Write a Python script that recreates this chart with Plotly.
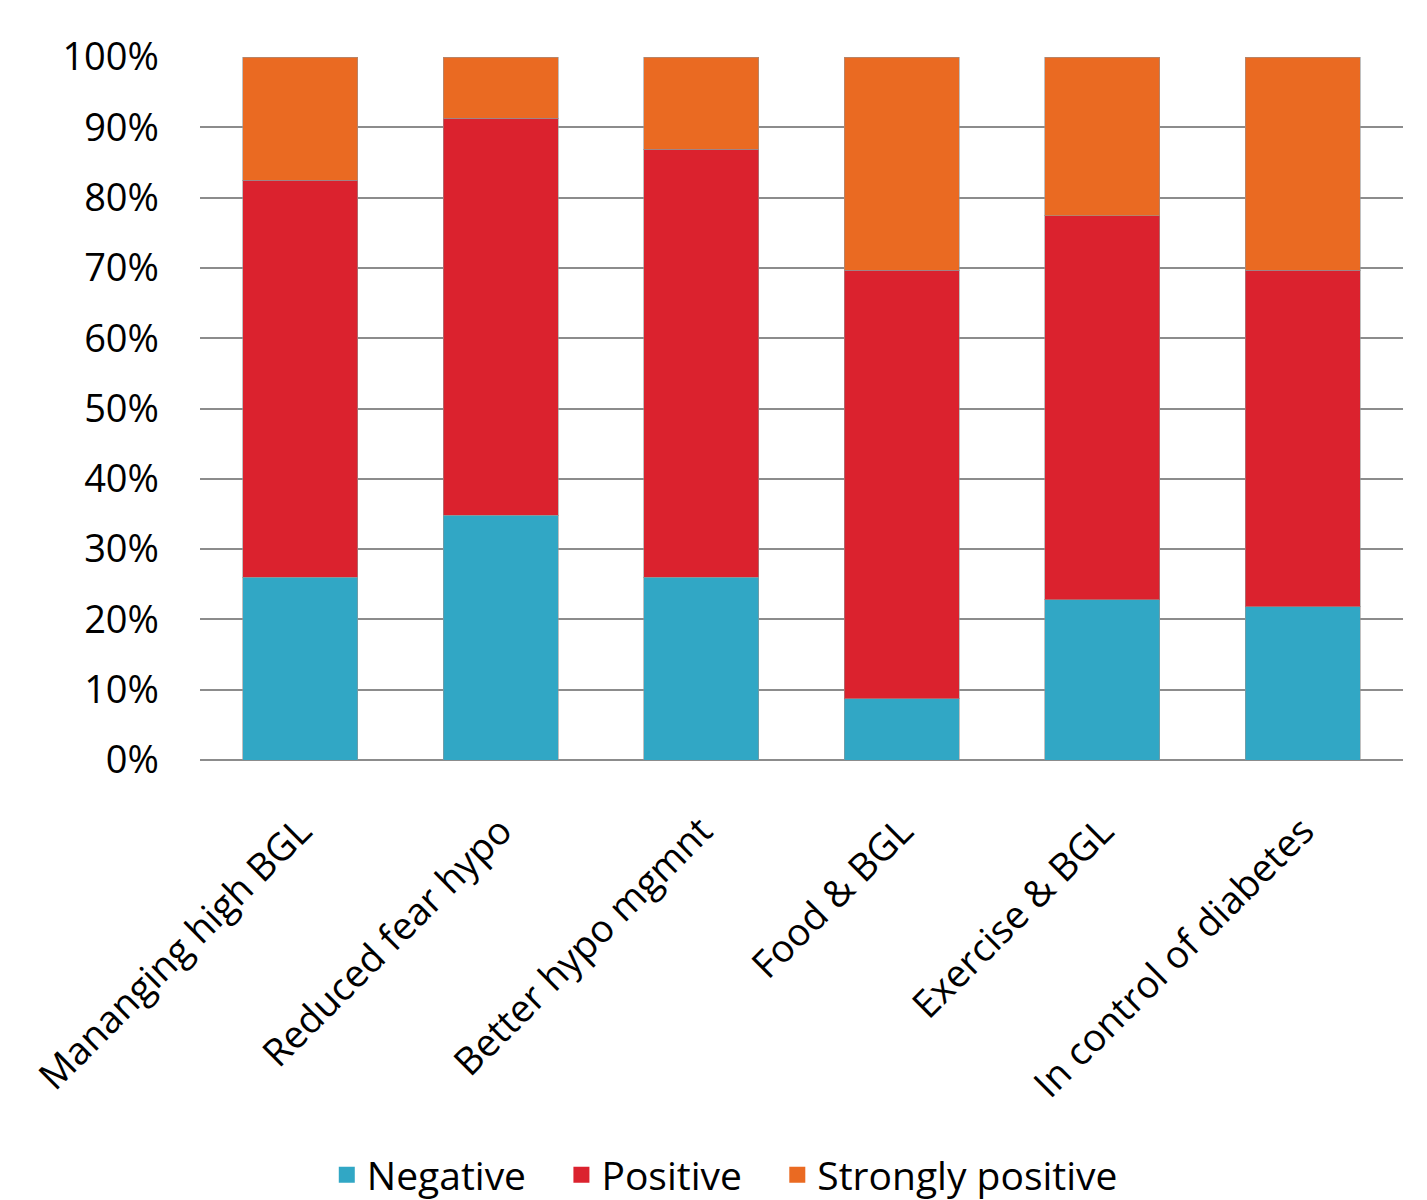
import plotly.graph_objects as go

categories = ["Mananging high BGL", "Reduced fear hypo", "Better hypo mgmnt",
              "Food & BGL", "Exercise & BGL", "In control of diabetes"]
negative = [26.0, 34.8, 26.0, 8.7, 22.8, 21.8]
positive = [56.5, 56.5, 60.9, 61.0, 54.6, 47.9]
strongly_positive = [17.5, 8.7, 13.1, 30.3, 22.6, 30.3]
y_ticks = [0, 10, 20, 30, 40, 50, 60, 70, 80, 90, 100]
y_tick_labels = [f"{v}%" for v in y_ticks]

series = [("Negative", negative, "#31A7C5"),
          ("Positive", positive, "#DB222E"),
          ("Strongly positive", strongly_positive, "#EA6A22")]

FONT = "Open Sans"
line = dict(color="rgba(150,150,150,0.6)", width=1)

fig = go.Figure()
for name, vals, col in series:
    fig.add_trace(go.Bar(name=name, x=categories, y=vals, showlegend=False,
                         marker=dict(color=col, line=line)))
for name, vals, col in series:
    fig.add_trace(go.Scatter(name=name, x=[None], y=[None], mode="markers",
                             marker=dict(symbol="square", size=22, color=col),
                             showlegend=True))

fig.update_layout(
    barmode="stack",
    bargap=0.427,
    width=1427, height=1200,
    margin=dict(l=200, r=24, t=57, b=440, autoexpand=False),
    plot_bgcolor="white", paper_bgcolor="white",
    font=dict(family=FONT, size=38, color="black"),
    showlegend=True,
    legend=dict(orientation="h", xref="container", x=0.229, xanchor="left",
                yref="container", y=0.021, yanchor="middle",
                font=dict(family=FONT, size=39), itemwidth=30,
                entrywidth=0, traceorder="normal", tracegroupgap=0),
    hovermode=False,
)
fig.update_xaxes(tickangle=-45, tickfont=dict(family=FONT, size=38),
                 showline=False, ticks="", showgrid=False, automargin=False,
                 ticklabelstandoff=40)
fig.update_yaxes(range=[0, 100], tickvals=y_ticks, ticktext=y_tick_labels,
                 showgrid=True, gridcolor="#8C8C8C", gridwidth=1.5,
                 zeroline=True, zerolinecolor="#8C8C8C", zerolinewidth=1.5,
                 showline=False, ticks="", ticklabelstandoff=40, automargin=False,
                 tickfont=dict(family=FONT, size=38))

# widen gaps between legend entries to match the reference spacing
for tr, gap in zip(fig.data[3:], ["\u00a0\u00a0\u00a0", "\u00a0\u00a0\u00a0", ""]):
    tr.name = tr.name + gap

fig.write_html("out.html")
